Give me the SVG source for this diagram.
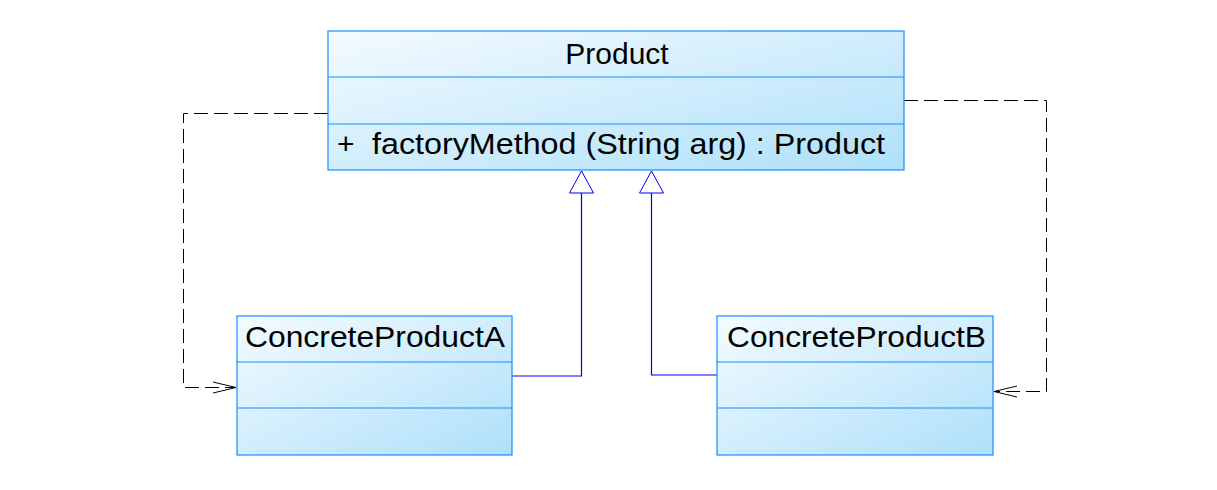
<svg xmlns="http://www.w3.org/2000/svg" width="1217" height="490" viewBox="0 0 1217 490">
<defs>
<linearGradient id="g" x1="0" y1="0" x2="1" y2="1">
<stop offset="0" stop-color="#f4fbff"/>
<stop offset="1" stop-color="#aee0fa"/>
</linearGradient>
<marker id="open" markerWidth="26" markerHeight="14" refX="24" refY="7" orient="auto" markerUnits="userSpaceOnUse">
<path d="M1,1 L24,7 L1,13" fill="none" stroke="#000" stroke-width="1"/>
</marker>
<marker id="tri" markerWidth="28" markerHeight="26" refX="23" refY="13" orient="auto" markerUnits="userSpaceOnUse">
<path d="M1,1 L23,13 L1,25 Z" fill="#fff" stroke="#0000ee" stroke-width="1"/>
</marker>
</defs>
<style>
.box{fill:url(#g);stroke:#1a8cff;stroke-width:1.2}
.div{stroke:#1a8cff;stroke-width:1.2}
text{font-family:"Liberation Sans",Arial,sans-serif;font-size:30px;fill:#000}
.dash{fill:none;stroke:#000;stroke-width:1;stroke-dasharray:14,6}
.gen{fill:none;stroke:#0000ee;stroke-width:1.2}
</style>
<g id="connectors">
<path class="dash" d="M328,113.5 H183.5 V387.5 H236"/>
<path d="M213,382 L236,387.5 L213,393" fill="none" stroke="#000" stroke-width="1"/>
<path class="dash" d="M904,100.5 H1046.5 V391.5 H994"/>
<path d="M1017,386 L994,391.5 L1017,397" fill="none" stroke="#000" stroke-width="1"/>
<path class="gen" d="M512,376 H581.5 V171" marker-end="url(#tri)"/>
<path class="gen" d="M717,375 H651.5 V171" marker-end="url(#tri)"/>
</g>
<g id="Product">
<rect class="box" x="328" y="31" width="576" height="139"/>
<line class="div" x1="328" y1="77" x2="904" y2="77"/>
<line class="div" x1="328" y1="124" x2="904" y2="124"/>
<text x="617" y="64" text-anchor="middle">Product</text>
<text x="337" y="154">+</text>
<text x="372" y="154" textLength="513" lengthAdjust="spacingAndGlyphs">factoryMethod (String arg)  : Product</text>
</g>
<g id="ConcreteProductA">
<rect class="box" x="237" y="316" width="275" height="139"/>
<line class="div" x1="237" y1="362" x2="512" y2="362"/>
<line class="div" x1="237" y1="408" x2="512" y2="408"/>
<text x="245" y="347" textLength="260" lengthAdjust="spacingAndGlyphs">ConcreteProductA</text>
</g>
<g id="ConcreteProductB">
<rect class="box" x="717" y="316" width="276" height="139"/>
<line class="div" x1="717" y1="362" x2="993" y2="362"/>
<line class="div" x1="717" y1="408" x2="993" y2="408"/>
<text x="727" y="347" textLength="259" lengthAdjust="spacingAndGlyphs">ConcreteProductB</text>
</g>
</svg>
